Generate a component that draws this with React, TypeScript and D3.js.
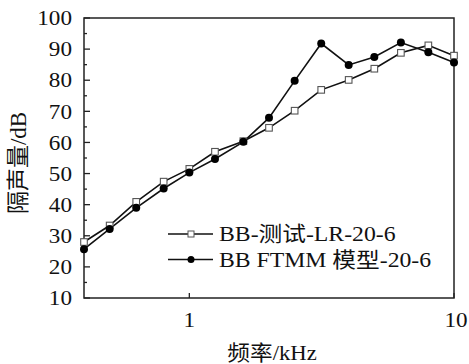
import React, { useEffect, useRef } from 'react';
import * as d3 from 'd3';

const freqs = [0.4, 0.5, 0.63, 0.8, 1, 1.25, 1.6, 2, 2.5, 3.15, 4, 5, 6.3, 8, 10];
const testValues = [28, 33.3, 40.9, 47.4, 51.5, 57, 60.4, 64.7, 70.2, 76.9, 80.1, 83.7, 88.8, 91.2, 87.9];
const modelValues = [25.7, 32.2, 39, 45.2, 50.3, 54.7, 60.2, 67.9, 79.8, 91.8, 84.9, 87.5, 92.1, 89, 85.7];
const yTicks = [10, 20, 30, 40, 50, 60, 70, 80, 90, 100];
const yMinorTicks = [15, 25, 35, 45, 55, 65, 75, 85, 95];
const xTicks = [1, 10];
const seriesNames = ['BB-测试-LR-20-6', 'BB FTMM 模型-20-6'];
const xTitle = '频率/kHz';
const yTitle = '隔声量/dB';

const W = 469;
const H = 364;
const FONT = '"Liberation Serif", "Times New Roman", "Noto Sans CJK SC", serif';
const STRETCH = 1.13;

const App: React.FC = () => {
  const svgRef = useRef<SVGSVGElement>(null);

  useEffect(() => {
    if (!svgRef.current) return;
    const svg = d3.select(svgRef.current);
    svg.selectAll('*').remove();

    const margin = { top: 18, right: 15, bottom: 66, left: 84 };
    const innerWidth = W - margin.left - margin.right;
    const innerHeight = H - margin.top - margin.bottom;

    const g = svg.append('g').attr('transform', `translate(${margin.left},${margin.top})`);

    const x = d3.scaleLog().domain([0.4, 10]).range([0, innerWidth]);
    const y = d3.scaleLinear().domain([10, 100]).range([innerHeight, 0]);

    // frame
    g.append('rect')
      .attr('width', innerWidth)
      .attr('height', innerHeight)
      .attr('fill', 'none')
      .attr('stroke', '#222')
      .attr('stroke-width', 1.5);

    // y axis, ticks point inward
    g.selectAll('.ymaj')
      .data(yTicks)
      .enter().append('line')
      .attr('x1', 0).attr('x2', 6)
      .attr('y1', d => y(d)).attr('y2', d => y(d))
      .attr('stroke', '#222').attr('stroke-width', 1.3);

    g.selectAll('.ymin')
      .data(yMinorTicks)
      .enter().append('line')
      .attr('x1', 0).attr('x2', 3)
      .attr('y1', d => y(d)).attr('y2', d => y(d))
      .attr('stroke', '#222').attr('stroke-width', 1.3);

    g.selectAll('.ylab')
      .data(yTicks)
      .enter().append('text')
      .attr('transform', d => `translate(-12,${y(d)}) scale(${STRETCH},1)`)
      .attr('dy', '0.35em')
      .attr('text-anchor', 'end')
      .style('font-family', FONT)
      .style('font-size', '20.5px')
      .attr('fill', '#111')
      .text(d => d);

    // x axis
    g.selectAll('.xt')
      .data(xTicks)
      .enter().append('line')
      .attr('x1', d => x(d)).attr('x2', d => x(d))
      .attr('y1', innerHeight).attr('y2', innerHeight - 5)
      .attr('stroke', '#222').attr('stroke-width', 1.3);

    g.selectAll('.xlab')
      .data(xTicks)
      .enter().append('text')
      .attr('transform', d => `translate(${x(d) + (d === 10 ? 2 : 0)},${innerHeight + 29}) scale(${STRETCH},1)`)
      .attr('text-anchor', 'middle')
      .style('font-family', FONT)
      .style('font-size', '20.5px')
      .attr('fill', '#111')
      .text(d => d);

    // titles
    svg.append('text')
      .attr('transform', `translate(272,360) scale(1.08,1)`)
      .attr('text-anchor', 'middle')
      .style('font-family', FONT)
      .style('font-size', '21px')
      .attr('fill', '#111')
      .text(xTitle);

    svg.append('text')
      .attr('transform', 'translate(26,163) rotate(-90)')
      .attr('text-anchor', 'middle')
      .style('font-family', FONT)
      .style('font-size', '23px')
      .attr('fill', '#111')
      .text(yTitle);

    // series lines
    const line = d3.line<number>()
      .x((_, i) => x(freqs[i]))
      .y(d => y(d));

    g.append('path')
      .datum(testValues)
      .attr('d', line)
      .attr('fill', 'none')
      .attr('stroke', '#111')
      .attr('stroke-width', 1.6);

    g.append('path')
      .datum(modelValues)
      .attr('d', line)
      .attr('fill', 'none')
      .attr('stroke', '#111')
      .attr('stroke-width', 1.6);

    g.selectAll('.sq')
      .data(testValues)
      .enter().append('rect')
      .attr('x', (_, i) => x(freqs[i]) - 3.3)
      .attr('y', d => y(d) - 3.3)
      .attr('width', 6.6)
      .attr('height', 6.6)
      .attr('fill', '#fff')
      .attr('stroke', '#555')
      .attr('stroke-width', 1.1);

    g.selectAll('.ci')
      .data(modelValues)
      .enter().append('circle')
      .attr('cx', (_, i) => x(freqs[i]))
      .attr('cy', d => y(d))
      .attr('r', 4)
      .attr('fill', '#000');

    // legend
    const legend = svg.append('g');
    seriesNames.forEach((name, i) => {
      const ly = 234 + i * 25.5;
      legend.append('line')
        .attr('x1', 168).attr('x2', 213)
        .attr('y1', ly).attr('y2', ly)
        .attr('stroke', '#111').attr('stroke-width', 1.6);
      if (i === 0) {
        legend.append('rect')
          .attr('x', 188).attr('y', ly - 3)
          .attr('width', 6).attr('height', 6)
          .attr('fill', '#fff').attr('stroke', '#555').attr('stroke-width', 1);
      } else {
        legend.append('circle')
          .attr('cx', 191).attr('cy', ly).attr('r', 3.5).attr('fill', '#000');
      }
      legend.append('text')
        .attr('transform', `translate(219,${ly}) scale(${STRETCH},1)`)
        .attr('dy', '0.35em')
        .style('font-family', FONT)
        .style('font-size', '21px')
        .attr('fill', '#111')
        .text(name);
    });
  }, []);

  return (
    <svg
      ref={svgRef}
      width={W}
      height={H}
      style={{ position: 'absolute', left: 0, top: 0, background: '#fff' }}
    />
  );
};

export default App;
